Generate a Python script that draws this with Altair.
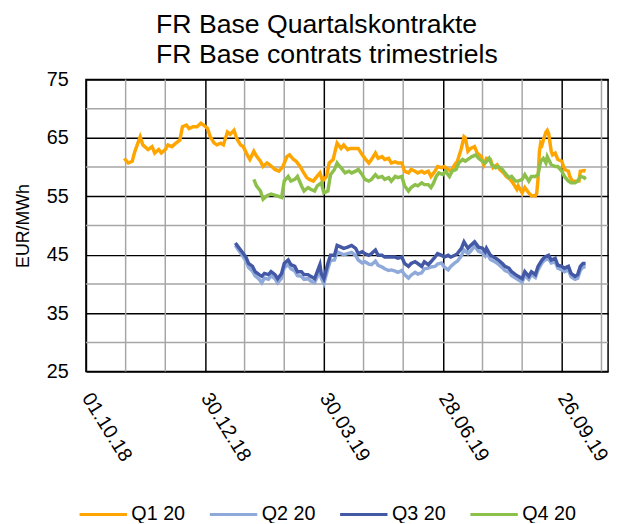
import altair as alt
import pandas as pd

# ---- data (days since 01.10.2018, EUR/MWh) ----
title_lines = ["FR Base Quartalskontrakte", "FR Base contrats trimestriels"]
series_names = ["Q1 20", "Q2 20", "Q3 20", "Q4 20"]
series_colors = ["#FFA500", "#8FA9DA", "#4459A6", "#8CC04B"]

q1_days = [29, 32, 35, 37, 41, 43, 47, 50, 52, 55, 57, 60, 62, 65, 68, 71, 73, 76, 78, 81,
           84, 87, 89, 92, 94, 97, 99, 102, 104, 107, 109, 112, 114, 117, 119, 122, 124, 127, 129, 132,
           134, 137, 139, 143, 146, 149, 152, 154, 157, 159, 162, 164, 167, 169, 172, 174, 177, 179, 182, 184,
           187, 189, 190, 193, 195, 198, 200, 204, 206, 209, 211, 214, 216, 219, 221, 224, 226, 229, 231, 234,
           236, 239, 241, 244, 246, 249, 251, 254, 256, 259, 261, 264, 266, 269, 271, 274, 276, 279, 281, 284,
           286, 287, 289, 291, 294, 296, 299, 301, 303, 306, 308, 311, 313, 316, 318, 321, 323, 326, 327, 330,
           332, 335, 337, 340, 341, 342, 343, 344, 345, 346, 348, 349, 350, 352, 353, 355, 357, 360, 362, 365,
           366, 368, 371, 373, 374, 377, 378]
q1_vals = [61.5, 60.7, 61.0, 62.7, 65.2, 63.8, 63.0, 63.5, 62.4, 63.0, 62.4, 63.0, 63.8, 63.5, 64.1, 64.6, 66.9, 67.2, 66.6, 66.9,
           66.9, 67.5, 67.2, 66.6, 65.2, 64.1, 63.8, 64.1, 63.8, 66.0, 65.6, 66.3, 64.9, 63.8, 63.5, 62.1, 61.3, 62.7, 61.9, 61.0,
           60.1, 60.7, 60.4, 59.6, 59.3, 60.1, 61.8, 62.1, 61.3, 61.0, 60.1, 59.3, 58.2, 57.9, 57.6, 58.2, 59.0, 57.6, 58.4, 60.7,
           61.3, 63.2, 64.1, 63.2, 63.8, 63.0, 63.2, 63.2, 63.2, 62.1, 61.5, 60.7, 61.3, 62.4, 61.5, 61.8, 61.3, 61.5, 60.7, 60.9,
           60.7, 60.7, 59.3, 59.0, 59.6, 59.3, 59.0, 59.3, 59.0, 59.3, 58.4, 59.3, 60.1, 59.9, 60.1, 59.6, 59.3, 60.4, 61.0, 63.2,
           65.2, 65.0, 62.7, 63.2, 63.5, 62.4, 61.8, 60.4, 61.5, 61.3, 59.9, 60.4, 59.6, 59.0, 58.4, 57.9, 57.3, 56.2, 56.8, 55.6,
           56.5, 55.6, 55.1, 55.1, 55.5, 58.0, 62.5, 64.1, 63.8, 64.6, 66.0, 66.3, 65.8, 62.7, 62.1, 62.4, 61.3, 61.0, 59.6, 59.3,
           58.4, 57.6, 57.6, 57.6, 59.3, 59.4, 59.3]

q2_days = [113, 116, 118, 121, 123, 126, 128, 131, 133, 135, 138, 140, 143, 145, 148, 150, 153, 155, 158, 160,
           163, 165, 168, 170, 173, 175, 177, 178, 180, 183, 185, 188, 190, 193, 195, 198, 201, 204, 206, 209,
           211, 214, 216, 219, 221, 224, 226, 229, 231, 234, 236, 239, 241, 244, 246, 249, 251, 254, 256, 259,
           261, 264, 266, 269, 271, 274, 276, 279, 281, 284, 286, 289, 291, 294, 297, 300, 302, 303, 306, 310,
           312, 315, 317, 320, 322, 325, 327, 330, 332, 335, 337, 340, 342, 345, 347, 350, 352, 355, 357, 360,
           362, 365, 367, 370, 372, 374, 376, 378]
q2_vals = [46.6, 45.6, 45.0, 43.9, 42.8, 42.2, 41.4, 40.8, 40.2, 41.0, 40.8, 41.4, 40.9, 40.2, 41.0, 42.8, 43.3, 42.6, 42.2, 41.4,
           41.3, 40.8, 40.9, 40.5, 40.2, 41.3, 42.5, 41.0, 40.1, 42.6, 44.0, 44.1, 45.5, 45.2, 45.0, 45.2, 45.4, 44.9, 44.1, 43.6,
           43.8, 43.4, 43.3, 43.9, 43.2, 42.9, 42.6, 42.3, 42.4, 42.2, 42.0, 42.3, 41.6, 41.0, 41.5, 42.0, 41.7, 41.9, 42.6, 42.7,
           42.9, 43.0, 43.4, 43.6, 42.9, 42.4, 43.0, 43.6, 43.9, 44.8, 45.8, 45.2, 45.6, 46.5, 45.6, 45.3, 44.8, 45.4, 44.2, 43.7,
           43.4, 42.8, 42.3, 42.0, 41.4, 41.0, 40.7, 40.3, 41.5, 40.8, 41.6, 41.1, 42.4, 43.6, 44.1, 44.3, 43.6, 43.8, 42.7, 42.4,
           42.1, 42.4, 41.2, 40.8, 41.0, 42.3, 42.9, 42.9]

q3_days = [113, 116, 118, 121, 123, 126, 128, 131, 133, 135, 138, 140, 143, 145, 148, 150, 153, 155, 158, 160,
           163, 165, 168, 170, 173, 175, 177, 178, 180, 183, 185, 188, 190, 193, 195, 198, 201, 204, 206, 209,
           211, 214, 216, 219, 221, 224, 226, 229, 231, 234, 236, 239, 241, 244, 246, 249, 251, 254, 256, 259,
           261, 264, 266, 269, 271, 274, 276, 279, 281, 284, 286, 289, 291, 294, 297, 300, 302, 303, 306, 310,
           312, 315, 317, 320, 322, 325, 327, 330, 332, 335, 337, 340, 342, 345, 347, 350, 352, 355, 357, 360,
           362, 365, 367, 370, 372, 374, 376, 378]
q3_vals = [47.0, 46.1, 45.5, 44.6, 43.5, 43.0, 42.1, 41.6, 41.3, 41.8, 41.6, 42.1, 41.6, 40.9, 41.8, 43.5, 44.1, 43.3, 43.0, 42.1,
           42.1, 41.6, 41.6, 41.3, 40.9, 42.1, 43.3, 41.8, 40.9, 43.5, 44.9, 44.9, 46.6, 46.3, 46.1, 46.3, 46.6, 46.1, 45.2, 45.5,
           45.2, 44.9, 45.2, 45.8, 44.9, 44.9, 44.6, 44.6, 44.6, 44.6, 44.4, 44.6, 43.5, 43.0, 43.5, 43.8, 43.5, 43.0, 43.8, 43.3,
           43.8, 44.6, 45.2, 44.9, 44.6, 44.9, 44.6, 44.9, 45.2, 46.1, 47.2, 46.1, 46.6, 47.2, 46.3, 46.1, 45.5, 46.1, 44.9, 44.4,
           44.1, 43.5, 43.0, 42.7, 42.1, 41.6, 41.3, 40.9, 42.1, 41.3, 42.1, 41.6, 43.0, 44.1, 44.6, 44.9, 44.1, 44.4, 43.2, 43.0,
           42.7, 43.0, 41.8, 41.3, 41.6, 43.0, 43.5, 43.5]

q4_days = [127, 129, 132, 134, 137, 140, 144, 148, 150, 153, 155, 158, 160, 163, 165, 168, 170, 173, 175, 178,
           180, 183, 185, 188, 190, 191, 194, 196, 199, 201, 204, 206, 209, 211, 214, 216, 219, 221, 224, 226,
           229, 231, 234, 236, 239, 241, 244, 246, 249, 251, 254, 256, 259, 261, 263, 265, 267, 270, 272, 275,
           277, 280, 282, 285, 287, 290, 292, 295, 297, 300, 302, 305, 307, 310, 312, 315, 317, 320, 322, 325,
           327, 330, 332, 335, 337, 340, 342, 344, 346, 348, 349, 352, 355, 357, 360, 362, 365, 367, 370, 372,
           374, 377, 378]
q4_vals = [57.9, 56.8, 55.9, 54.5, 55.1, 55.4, 55.1, 54.8, 57.6, 58.4, 57.6, 57.9, 58.4, 56.8, 55.9, 56.5, 56.2, 55.9, 56.8, 57.3,
           55.6, 55.9, 58.7, 59.6, 60.7, 60.4, 59.6, 59.0, 59.3, 59.0, 59.3, 59.6, 58.7, 57.9, 57.6, 57.9, 58.7, 58.2, 58.4, 57.9,
           58.2, 57.6, 58.4, 58.2, 58.4, 56.8, 55.9, 56.5, 57.0, 56.8, 57.3, 57.0, 57.0, 56.5, 57.3, 58.4, 59.0, 58.7, 59.3, 58.4,
           59.3, 59.6, 60.7, 61.3, 61.0, 61.5, 61.8, 62.1, 61.5, 61.0, 60.7, 61.5, 60.4, 59.9, 60.1, 59.6, 59.0, 58.2, 58.4, 57.6,
           57.6, 57.9, 58.7, 57.6, 58.4, 58.4, 58.7, 61.0, 61.5, 60.7, 61.8, 60.4, 60.1, 60.1, 59.3, 58.4, 57.6, 57.3, 57.3, 57.6,
           58.4, 58.2, 57.9]

# axis tick / grid positions (days since 01.10.2018 and EUR/MWh)
major_x = [0, 90, 180, 270, 360]
minor_x = [30, 60, 120, 150, 210, 240, 300, 330, 390]
major_y = [25, 35, 45, 55, 65, 75]
minor_y = [30, 40, 50, 60, 70]

rows = []
for name, ds, vs in zip(series_names, [q1_days, q2_days, q3_days, q4_days],
                        [q1_vals, q2_vals, q3_vals, q4_vals]):
    for d, v in zip(ds, vs):
        rows.append({"series": name, "day": d, "value": v})
df = pd.DataFrame(rows)

FONT = "Liberation Sans"
x_scale = alt.Scale(domain=[0, 395], nice=False, zero=False)
y_scale = alt.Scale(domain=[25, 75], nice=False, zero=False)

x_axis = alt.Axis(
    values=major_x,
    labelExpr="utcFormat(utc(2018, 9, 1) + datum.value * 86400000, '%d.%m.%y')",
    labelAngle=58, labelAlign="left", labelBaseline="middle", labelPadding=23,
    grid=True, gridColor="black", gridWidth=1.5, ticks=False, domain=False,
    title=None, labelFontSize=20, labelColor="black", labelFont=FONT,
    labelOverlap=False, labelBound=False, labelFlush=False,
)
y_axis = alt.Axis(
    values=major_y, grid=True, gridColor="black", gridWidth=1.5,
    ticks=False, domain=False, labelPadding=18, labelFontSize=20,
    labelColor="black", labelFont=FONT, title="EUR/MWh", titleFontSize=18,
    titleFont=FONT, titleFontWeight="normal", titleColor="black", titlePadding=14,
    labelOverlap=False, labelFlush=False,
)

grid_v = alt.Chart(pd.DataFrame({"day": minor_x})).mark_rule(
    color="#A6A6A6", strokeWidth=1.5
).encode(x=alt.X("day:Q", scale=x_scale, axis=x_axis))

grid_h = alt.Chart(pd.DataFrame({"value": minor_y})).mark_rule(
    color="#A6A6A6", strokeWidth=1.5
).encode(y=alt.Y("value:Q", scale=y_scale, axis=y_axis))

lines = alt.Chart(df).mark_line(strokeWidth=3.5).encode(
    x=alt.X("day:Q", scale=x_scale, axis=x_axis),
    y=alt.Y("value:Q", scale=y_scale, axis=y_axis),
    color=alt.Color(
        "series:N",
        scale=alt.Scale(domain=series_names, range=series_colors),
        legend=alt.Legend(
            title=None, orient="none", direction="horizontal", legendX=-8, legendY=415,
            symbolType="stroke", symbolSize=2304, symbolStrokeWidth=3,
            labelFontSize=20, labelFont=FONT, labelColor="black", labelOffset=3,
            columnPadding=18,
        ),
    ),
)

title_text = alt.Chart(pd.DataFrame({"title": ["\n".join(title_lines)]})).mark_text(
    lineBreak="\n", align="left", baseline="alphabetic", fontSize=27, lineHeight=30,
    font=FONT, color="black",
).encode(text="title:N", x=alt.value(71), y=alt.value(-47))

chart = alt.layer(grid_v, grid_h, lines, title_text).properties(
    width=529,
    height=296,
    padding={"left": 79, "top": 69, "right": 6, "bottom": 150},
    autosize=alt.AutoSizeParams(type="none"),
).configure_view(stroke="black", strokeWidth=1.5)

chart.save("out.html", embed_options={"renderer": "svg", "actions": False})
